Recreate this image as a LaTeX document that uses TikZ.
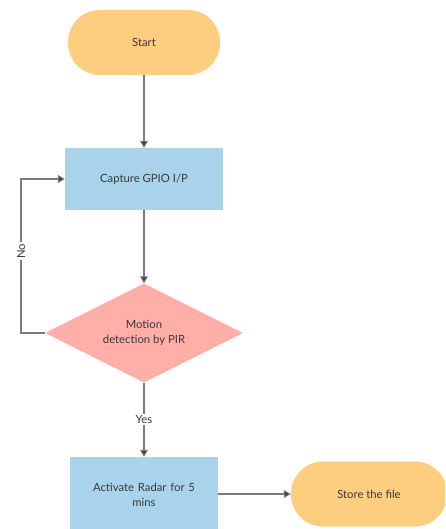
\documentclass[tikz,border=0pt]{standalone}
\usepackage{fontspec}
\setmainfont{Lato}
\usetikzlibrary{shapes.geometric,arrows.meta}
\definecolor{termc}{HTML}{FDCD80}
\definecolor{procc}{HTML}{A8D3EA}
\definecolor{decc}{HTML}{FFAEA8}
\definecolor{txtc}{HTML}{3A3A3A}
\definecolor{linec}{HTML}{7A7A7A}
\begin{document}
\begin{tikzpicture}[x=1pt,y=-1pt,
  every node/.style={font=\fontsize{11.3}{15}\selectfont, text=txtc},
  term/.style={draw=none, fill=termc, rounded corners=32pt, minimum width=156pt, minimum height=65pt, inner sep=0pt},
  proc/.style={draw=none, fill=procc, minimum width=158pt, minimum height=62pt, inner sep=0pt, align=center},
  dec/.style={draw=none, fill=decc, diamond, minimum width=198pt, minimum height=99pt, inner sep=0pt, aspect=2, align=center},
  conn/.style={draw=linec, line width=1.1pt, -{Triangle[length=7pt,width=8pt,fill=txtc]}},
  lab/.style={fill=white, inner sep=1.5pt}]
\useasboundingbox (0,0) rectangle (445,529);
\begin{scope}
\clip (0,0) rectangle (445,529);
\node[term, minimum width=152pt] (start) at (144,42.5) {Start};
\node[proc] (cap) at (144,179) {Capture GPIO I/P};
\node[dec] (mot) at (144,333) {};
\node[align=center] at (144,333) {Motion\\detection by PIR};
\node[proc, minimum width=148pt, minimum height=76pt, text width=140pt] (act) at (144,495) {Activate Radar for 5\\mins};
\node[term] (store) at (369,494) {Store the file};
\coordinate (c1) at (21,333);
\coordinate (c2) at (21,179);
\draw[conn] (start) -- (cap);
\draw[conn] (cap) -- (mot);
\draw[conn] (mot.west) -- (c1) -- node[lab, rotate=90, pos=0.53] {No} (c2) -- (cap.west);
\draw[conn] (mot.south) -- node[lab, pos=0.5] {Yes} (act.north);
\draw[conn] (act.east |- store.west) -- (store.west);
\end{scope}
\end{tikzpicture}
\end{document}
